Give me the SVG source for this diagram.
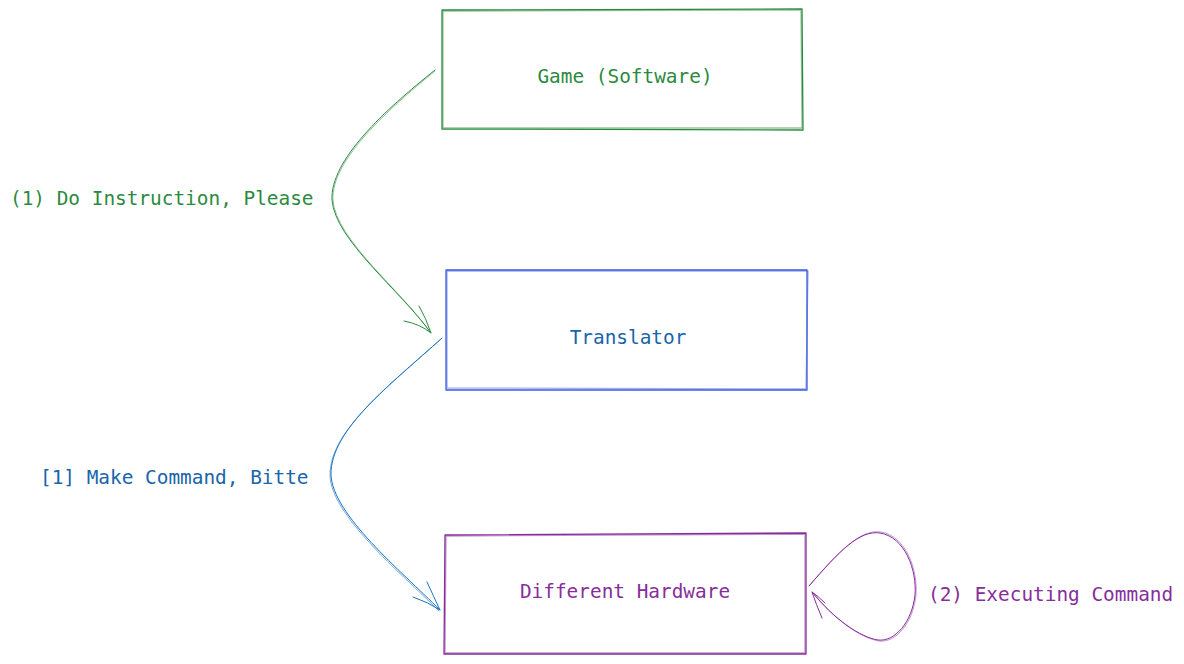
<svg xmlns="http://www.w3.org/2000/svg" width="1184" height="664" viewBox="0 0 1184 664">
<style>
text{font-family:"DejaVu Sans Mono","Liberation Mono",monospace;font-size:19.4px;dominant-baseline:central}
.box{fill:none;stroke-width:1.3;stroke-linejoin:round}
.c{fill:none;stroke-width:1;stroke-linecap:round}
.g{stroke:#2b8a3e}.gt{fill:#2b8a3e}
.b{stroke:#3b5bdb}.bc{stroke:#1971c2}.bt{fill:#1864ab}
.p{stroke:#862e9c}.pt{fill:#862e9c}
</style>
<rect width="1184" height="664" fill="#fff"/>
<g id="game">
<path class="box g" d="M442 10 L802 9 L803 130 L442 129 Z"/>
<path class="box g" d="M443 11 L801 10 L802 128 L443 128 Z" opacity="0.5"/>
<text class="gt" x="625" y="76" text-anchor="middle">Game (Software)</text>
</g>
<g id="translator">
<path class="box b" d="M446 270 L807 270 L807 390 L446 390 Z"/>
<path class="box b" d="M447 271 L808 271 L806 389 L447 388 Z" opacity="0.5"/>
<text class="bt" x="628" y="337" text-anchor="middle">Translator</text>
</g>
<g id="hardware">
<path class="box p" d="M445 535 L806 533 L806 654 L444 654 Z"/>
<path class="box p" d="M446 536 L805 534 L805 653 L445 653 Z" opacity="0.5"/>
<text class="pt" x="625" y="591" text-anchor="middle">Different Hardware</text>
</g>
<g id="connectors">
<path class="c g" d="M435 70 C 385 110, 330 160, 332 200 C 335 240, 400 290, 431 333"/>
<path class="c g" d="M435 71 C 386 111, 331 161, 333 200 C 336 240, 401 290, 430 332" opacity="0.5"/>
<path class="c g" d="M404 321 Q 420 324 431 333 Q 426 318 419 306"/>
<path class="c bc" d="M442 338 C 390 385, 330 430, 331 475 C 333 515, 400 570, 440 610"/>
<path class="c bc" d="M441 339 C 389 386, 329 431, 330 476 C 332 516, 399 571, 439 611" opacity="0.6"/>
<path class="c bc" d="M413 597 Q 428 602 440 610 Q 433 595 427 582"/>
<path class="c p" d="M809 586 C 840 550, 860 530, 880 533 C 905 537, 917 570, 915 595 C 912 622, 895 642, 878 640 C 860 637, 835 620, 812 592"/>
<path class="c p" d="M810 585 C 841 549, 861 529, 881 532 C 906 536, 918 570, 916 595 C 913 623, 896 643, 879 641 C 861 638, 836 621, 813 593" opacity="0.5"/>
<path class="c p" d="M825 603 Q 818 596 812 592 Q 816 604 822 618"/>
</g>
<g id="labels">
<text class="gt" x="10" y="198">(1) Do Instruction, Please</text>
<text class="bt" x="40" y="477">[1] Make Command, Bitte</text>
<text class="pt" x="928" y="594">(2) Executing Command</text>
</g>
</svg>
